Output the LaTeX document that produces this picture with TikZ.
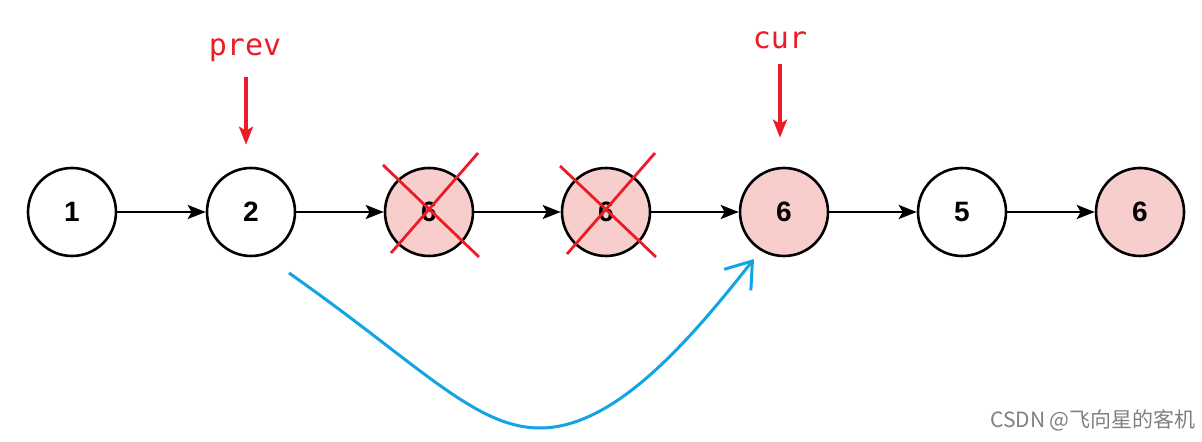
\documentclass[tikz,border=0pt]{standalone}
\usepackage{fontspec}
\setmainfont{Liberation Sans}
\setmonofont{DejaVu Sans Mono}
\newfontfamily\cjk{Noto Sans CJK SC}
\usetikzlibrary{arrows.meta,calc}
\definecolor{nodepink}{HTML}{F8CECC}
\definecolor{markred}{HTML}{EA1C27}
\definecolor{jumpblue}{HTML}{12A4E3}
\begin{document}
\begin{tikzpicture}[x=0.5pt,y=-0.5pt,
    lnode/.style={circle,draw,line width=1.3pt,minimum size=44pt,inner sep=0pt,
      font=\fontsize{14}{16}\selectfont\bfseries},
    dupe/.style={lnode,fill=nodepink},
    link/.style={-{Stealth[length=9pt,width=7pt,inset=2pt]},line width=1.3pt},
    pointer/.style={-{Stealth[length=9pt,width=7pt,inset=2pt]},markred,line width=2pt},
    ptrtext/.style={markred,font=\fontsize{15}{17}\selectfont\ttfamily},
    cross/.style={markred,line width=1.4pt}]
  \useasboundingbox (0,0) rectangle (1202,442);

  % the list
  \node[lnode] (n1) at (72,212) {1};
  \node[lnode] (n2) at (251,212) {2};
  \node[dupe] (n3) at (429,212) {6};
  \node[dupe] (n4) at (606,212) {6};
  \node[dupe] (n5) at (784,212) {6};
  \node[lnode] (n6) at (962,212) {5};
  \node[dupe] (n7) at (1140,212) {6};

  \foreach \a/\b in {n1/n2,n2/n3,n3/n4,n4/n5,n5/n6,n6/n7}
    \draw[link] (\a) -- (\b);

  % removed nodes
  \draw[cross] ($(n3)+(-46,-47)$) -- ($(n3)+(50,45)$);
  \draw[cross] ($(n3)+(49,-59)$) -- ($(n3)+(-38,41)$);
  \draw[cross] ($(n4)+(-46,-46)$) -- ($(n4)+(50,45)$);
  \draw[cross] ($(n4)+(49,-59)$) -- ($(n4)+(-39,42)$);

  % pointers
  \node[ptrtext,anchor=base] (prev) at (245,56) {prev};
  \node[ptrtext,anchor=base] (cur) at (780,49) {cur};
  \draw[pointer] (prev.south) ++(1,8) coordinate (p0) -- ($(n2.north)+(-5,-22)$);
  \draw[pointer] (cur.south) ++(0,8) coordinate (c0) -- ($(n5.north)+(-4,-29)$);

  % new link
  \coordinate (jstart) at (289,273);
  \coordinate (jend) at (754,259);
  \draw[jumpblue,line width=1.5pt,-{Straight Barb[length=12pt,width=17pt,line width=1.5pt]}]
    (jstart) .. controls (420,365) and (475,428) .. (540,428)
    .. controls (615,428) and (690,340) .. (jend);

  \node[gray,font=\cjk\fontsize{10.5}{12}\selectfont] (mark) at (1093,420) {CSDN @飞向星的客机};
\end{tikzpicture}
\end{document}
